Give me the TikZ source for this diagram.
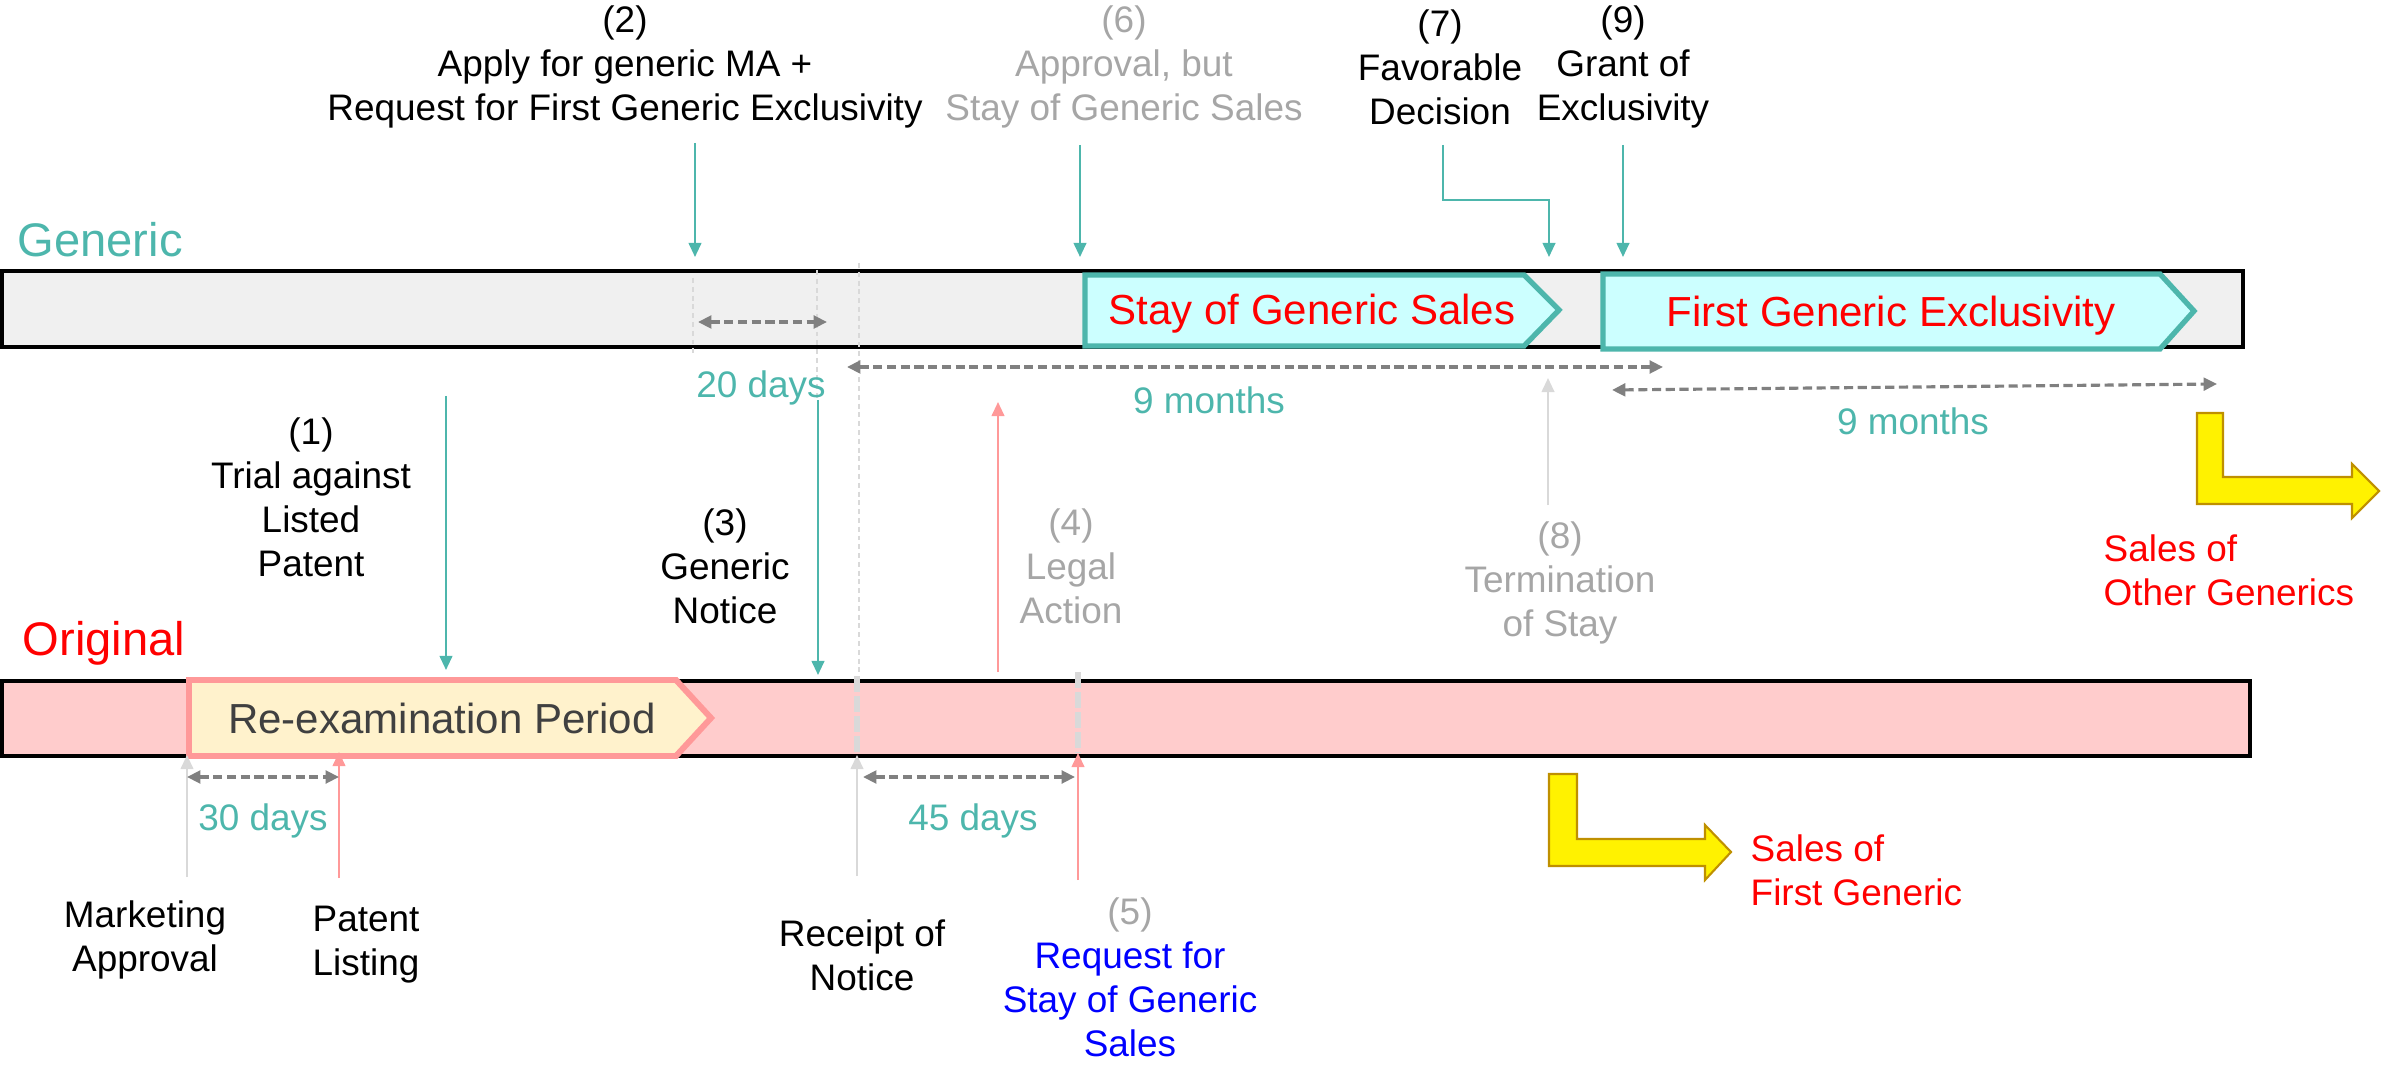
\documentclass[tikz,border=0pt]{standalone}
\usepackage{fontspec}
\setmainfont{Liberation Sans}
\usetikzlibrary{arrows.meta}
\definecolor{tealc}{RGB}{77,182,172}
\definecolor{cyanfill}{RGB}{204,255,255}
\definecolor{pinkfill}{RGB}{255,204,204}
\definecolor{pinkline}{RGB}{255,153,153}
\definecolor{creamfill}{RGB}{255,242,204}
\definecolor{goldline}{RGB}{191,144,0}
\definecolor{barfill}{RGB}{240,240,240}
\definecolor{lightgr}{RGB}{217,217,217}
\definecolor{midgr}{RGB}{128,128,128}
\definecolor{textgr}{RGB}{166,166,166}
\definecolor{darktext}{RGB}{64,64,64}
\newcommand\fsmall{\fontsize{10.5}{12.5}\selectfont}
\newcommand\fmid{\fontsize{11.95}{14}\selectfont}
\newcommand\fbig{\fontsize{13.4}{16}\selectfont}
\tikzset{
  tealarr/.style={draw=tealc, line width=0.6pt, -{Triangle[length=4pt,width=3.6pt]}},
  pinkarr/.style={draw=pinkline, line width=0.6pt, -{Triangle[length=4pt,width=3.6pt]}},
  greyarr/.style={draw=lightgr, line width=0.6pt, -{Triangle[length=4pt,width=3.6pt]}},
  span/.style={draw=midgr, line width=0.9pt, dash pattern=on 2.6pt off 1.3pt,
    {Triangle[length=3.8pt,width=3.6pt]}-{Triangle[length=3.8pt,width=3.6pt]}},
  guide/.style={draw=lightgr, line width=0.3pt, dash pattern=on 1.4pt off 1.1pt},
  stayline/.style={draw=lightgr, line width=1.7pt, dash pattern=on 4.5pt off 1.2pt},
  track/.style={draw=black, line width=1pt},
  stagebox/.style={draw=tealc, fill=cyanfill, line width=1.5pt},
  reexbox/.style={draw=pinkline, fill=creamfill, line width=1.7pt},
  salesarr/.style={draw=goldline, fill=yellow, line width=0.6pt},
  lbl/.style={align=center, font=\fsmall, inner sep=0pt},
  dur/.style={font=\fsmall, text=tealc, inner sep=0pt, anchor=base},
  boxtxt/.style={font=\fmid, inner sep=0pt, anchor=base},
  lane/.style={font=\fbig, inner sep=0pt, anchor=base west}
}

\begin{document}
\begin{tikzpicture}[x=0.01cm, y=-0.01cm]
			%%%%% START %%%%%
			\useasboundingbox (0,0) rectangle (2382,1067);
			
			% the two lanes
			\draw[track, fill=barfill] (2,271) rectangle (2243,347);
			\draw[track, fill=pinkfill] (2,681) rectangle (2250,756);
			\node[lane, text=tealc] (gen) at (17,257) {Generic};
			\node[lane, text=red] (org) at (22,655) {Original};
			
			% periods
			\draw[stagebox] (1085,275) -- (1524,275) -- (1559,310) -- (1524,346) -- (1085,346) -- cycle;
			\node[boxtxt, text=red] (stay) at (1312,325) {Stay of Generic Sales};
			\draw[stagebox] (1603,274) -- (2160,274) -- (2194,311) -- (2160,349) -- (1603,349) -- cycle;
			\node[boxtxt, text=red] (excl) at (1891,327) {First Generic Exclusivity};
			\draw[reexbox] (189,680) -- (676,680) -- (711,718) -- (676,756) -- (189,756) -- cycle;
			\node[boxtxt, text=darktext] (reex) at (442,733) {Re-examination Period};
			
			% guide lines
			\draw[guide] (693,278) -- (693,353);
			\draw[guide] (817,270) -- (817,400);
			\draw[guide] (859,263) -- (859,677);
			\draw[stayline] (857,676) -- (857,753);
			\draw[stayline] (1078,672) -- (1078,753);
			
			% events
			\node[lbl] (ev2) at (625,67) {(2)\\Apply for generic MA +\\Request for First Generic Exclusivity};
			\node[lbl, text=textgr] (ev6) at (1124,67) {(6)\\Approval, but\\Stay of Generic Sales};
			\node[lbl] (ev7) at (1440,67) {(7)\\Favorable\\Decision};
			\node[lbl] (ev9) at (1623,67) {(9)\\Grant of\\Exclusivity};
			\node[lbl] (ev1) at (311,497) {(1)\\Trial against\\Listed\\Patent};
			\node[lbl] (ev3) at (725,566) {(3)\\Generic\\Notice};
			\node[lbl, text=textgr] (ev4) at (1071,566) {(4)\\Legal\\Action};
			\node[lbl, text=textgr] (ev8) at (1560,583) {(8)\\Termination\\of Stay};
			\node[lbl] (mkt) at (145,940) {Marketing\\Approval};
			\node[lbl] (pat) at (366,945) {Patent\\Listing};
			\node[lbl] (rcp) at (862,955) {Receipt of\\Notice};
			\node[lbl, text=blue] (ev5) at (1130,977) {\textcolor{textgr}{(5)}\\Request for\\Stay of Generic\\Sales};
			
			\coordinate (ev2a) at (695,143);   \coordinate (ev2b) at (695,257);
			\coordinate (ev6a) at (1080,145);  \coordinate (ev6b) at (1080,257);
			\coordinate (ev7a) at (1443,145);  \coordinate (ev7b) at (1549,257);
			\coordinate (ev9a) at (1623,145);  \coordinate (ev9b) at (1623,257);
			\coordinate (ev1a) at (446,396);   \coordinate (ev1b) at (446,670);
			\coordinate (ev3a) at (818,400);   \coordinate (ev3b) at (818,675);
			\coordinate (ev4a) at (998,672);   \coordinate (ev4b) at (998,402);
			\coordinate (ev8a) at (1548,505);  \coordinate (ev8b) at (1548,378);
			\coordinate (mkta) at (187,877);   \coordinate (mktb) at (187,755);
			\coordinate (pata) at (339,878);   \coordinate (patb) at (339,752);
			\coordinate (rcpa) at (857,876);   \coordinate (rcpb) at (857,755);
			\coordinate (ev5a) at (1078,880);  \coordinate (ev5b) at (1078,753);
			
			\draw[tealarr] (ev2a) -- (ev2b);
			\draw[tealarr] (ev6a) -- (ev6b);
			\draw[tealarr] (ev7a) |- (1500,200) -| (ev7b);
			\draw[tealarr] (ev9a) -- (ev9b);
			\draw[tealarr] (ev1a) -- (ev1b);
			\draw[tealarr] (ev3a) -- (ev3b);
			\draw[pinkarr] (ev4a) -- (ev4b);
			\draw[pinkarr] (pata) -- (patb);
			\draw[pinkarr] (ev5a) -- (ev5b);
			\draw[greyarr] (ev8a) -- (ev8b);
			\draw[greyarr] (mkta) -- (mktb);
			\draw[greyarr] (rcpa) -- (rcpb);
			
			% durations
			\coordinate (d20a) at (698,322);   \coordinate (d20b) at (827,322);
			\coordinate (m9aa) at (847,367);   \coordinate (m9ab) at (1663,367);
			\coordinate (m9ba) at (1612,390);  \coordinate (m9bb) at (2217,384);
			\coordinate (d30a) at (187,777);   \coordinate (d30b) at (339,777);
			\coordinate (d45a) at (863,777);   \coordinate (d45b) at (1075,777);
			\draw[span] (d20a) -- (d20b);
			\draw[span] (m9aa) -- (m9ab);
			\draw[span] (m9ba) -- (m9bb);
			\draw[span] (d30a) -- (d30b);
			\draw[span] (d45a) -- (d45b);
			\node[dur] (t20) at (761,398) {20 days};
			\node[dur] (t9a) at (1209,413) {9 months};
			\node[dur] (t9b) at (1913,435) {9 months};
			\node[dur] (t30) at (263,830) {30 days};
			\node[dur] (t45) at (973,830) {45 days};
			
			% market entry
			\draw[salesarr] (1549,774) -- (1577,774) -- (1577,839) -- (1705,839) -- (1705,825)
			  -- (1731,852) -- (1705,880) -- (1705,866) -- (1549,866) -- cycle;
			\node[lbl, text=red, align=left, anchor=west] (fst) at (1750,870) {Sales of\\First Generic};
			\draw[salesarr] (2197,413) -- (2223,413) -- (2223,477) -- (2352,477) -- (2352,464)
			  -- (2379,491) -- (2352,518) -- (2352,504) -- (2197,504) -- cycle;
			\node[lbl, text=red, align=left, anchor=west] (oth) at (2103,570) {Sales of\\Other Generics};
			
			%%%%% END %%%%%
		\end{tikzpicture}
\end{document}
